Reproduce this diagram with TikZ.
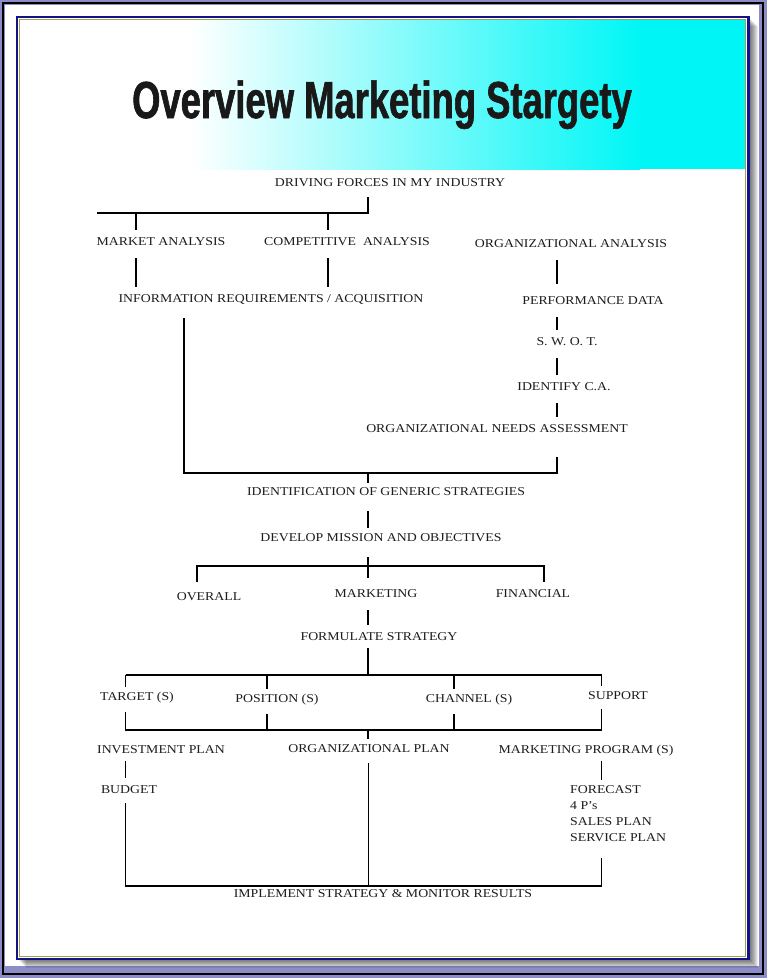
\documentclass[tikz,border=0pt]{standalone}
\usepackage{fontspec}
\setmainfont{Liberation Serif}[FakeStretch=1.15]
\newfontfamily\titlefont{Liberation Sans}[FakeStretch=0.70, FakeBold=1.2]
\usetikzlibrary{positioning}
\definecolor{panelblue}{HTML}{12128A}
\definecolor{framelav}{HTML}{8C8CC6}
\definecolor{trimolive}{HTML}{A0A048}
\definecolor{bandcyan}{HTML}{00F6F6}
\definecolor{ink}{HTML}{1C1C1C}
\tikzset{lbl/.style = {anchor = base, inner sep = 0, text height = 8pt, text depth = 0pt,
                       text = ink, font = \fontsize{12}{16}\selectfont}}
\tikzset{link/.style = {line width = 1.6pt}}
\tikzset{stub/.style = {link, shorten <= 13pt, shorten >= 7pt}}
\tikzset{ttl/.style = {anchor = base, inner sep = 0, font = \titlefont\bfseries\fontsize{52}{52}\selectfont}}

\begin{document}
\begin{tikzpicture}[x=1pt, y=-1pt]
    % frame, shadow and panel
    \fill[framelav] (0,0) rectangle (767,978);
    \fill[white] (5,5) rectangle (759,966);
    \draw[black, line width=2pt] (2.5,2.5) rectangle (763,974);
    \foreach \s in {1,...,9}
        \fill[black, opacity=0.08] ({17+\s},{17+\s}) rectangle ({749+\s},{959+\s});
    \fill[white] (17,17) rectangle (749,959);
    \shade[left color=white, right color=bandcyan] (190,20) rectangle (640,169);
    \fill[bandcyan] (640,20) rectangle (745,169);
    \draw[panelblue, line width=2.5pt] (17,17) rectangle (748.5,959);
    \draw[trimolive, line width=0.8pt] (19.8,19.8) rectangle (745,956);

    \node[ttl, text=black!90] (title) at (382,118) {Overview Marketing Stargety};

    \node[lbl] (drive) at (390,186) {DRIVING FORCES IN MY INDUSTRY};
    \node[lbl] (market) at (161,245) {MARKET ANALYSIS};
    \node[lbl] (compet) at (347,245) {COMPETITIVE\ \ ANALYSIS};
    \node[lbl] (organa) at (571,247) {ORGANIZATIONAL ANALYSIS};
    \node[lbl] (info) at (271,302) {INFORMATION REQUIREMENTS / ACQUISITION};
    \node[lbl] (perf) at (593,304) {PERFORMANCE DATA};
    \node[lbl] (swot) at (567,345) {S. W. O. T.};
    \node[lbl] (ident) at (564,390) {IDENTIFY C.A.};
    \node[lbl] (needs) at (497,432) {ORGANIZATIONAL NEEDS ASSESSMENT};
    \node[lbl] (generic) at (386,495) {IDENTIFICATION OF GENERIC STRATEGIES};
    \node[lbl] (mission) at (381,541) {DEVELOP MISSION AND OBJECTIVES};
    \node[lbl] (overall) at (209,600) {OVERALL};
    \node[lbl] (mkt) at (376,597) {MARKETING};
    \node[lbl] (fin) at (533,597) {FINANCIAL};
    \node[lbl] (formul) at (379,640) {FORMULATE STRATEGY};
    \node[lbl] (target) at (137,700) {TARGET (S)};
    \node[lbl] (posit) at (277,702) {POSITION (S)};
    \node[lbl] (channel) at (469,702) {CHANNEL (S)};
    \node[lbl] (support) at (618,699) {SUPPORT};
    \node[lbl] (invest) at (161,753) {INVESTMENT PLAN};
    \node[lbl] (orgplan) at (369,752) {ORGANIZATIONAL PLAN};
    \node[lbl] (mprog) at (586,753) {MARKETING PROGRAM (S)};
    \node[lbl] (budget) at (129,793) {BUDGET};
    \node[anchor=north west, align=left, inner sep=0, text=ink, font=\fontsize{12}{16}\selectfont]
        (plans) at (570,785) {FORECAST\\4 P's\\SALES PLAN\\SERVICE PLAN};
    \node[lbl] (implement) at (383,897) {IMPLEMENT STRATEGY \& MONITOR RESULTS};

    % columns and bars
    \coordinate (xa) at (136,0);
    \coordinate (xb) at (328,0);
    \coordinate (xc) at (557,0);
    \coordinate (xd) at (184,0);
    \coordinate (xe) at (368,0);
    \coordinate (xi) at (267,0);
    \coordinate (xj) at (454,0);
    \coordinate (b1) at (97,213);
    \coordinate (b2) at (557,473);
    \coordinate (b3l) at (197,566);
    \coordinate (b3r) at (544,566);
    \coordinate (b4l) at (125.5,675);
    \coordinate (b4r) at (601.5,675);
    \coordinate (b5l) at (125.5,730);
    \coordinate (b5r) at (601.5,730);
    \coordinate (b6l) at (125.5,886);
    \coordinate (b6r) at (601.5,886);

    \draw[link, shorten <= 11pt] (drive.south -| xe) |- (b1);
    \draw[link, shorten >= 7pt] (xa |- b1) -- (xa |- market.north);
    \draw[link, shorten >= 7pt] (xb |- b1) -- (xb |- compet.north);
    \draw[stub] (market.south -| xa) -- (info.north -| xa);
    \draw[stub] (compet.south -| xb) -- (info.north -| xb);
    \draw[stub, shorten >= 12pt] (organa.south -| xc) -- (perf.north -| xc);
    \draw[stub] (perf.south -| xc) -- (swot.north -| xc);
    \draw[stub] (swot.south -| xc) -- (ident.north -| xc);
    \draw[stub] (ident.south -| xc) -- (needs.north -| xc);
    \draw[link, shorten <= 16pt, shorten >= 25pt] (info.south -| xd) |- (b2) -- (needs.south -| xc);
    \draw[link, shorten >= 4pt] (xe |- b2) -- (xe |- generic.north);
    \draw[stub, shorten <= 16pt, shorten >= 5pt] (generic.south -| xe) -- (mission.north -| xe);
    \draw[link, shorten <= 16pt, shorten >= 11pt] (mission.south -| xe) -- (mkt.north -| xe);
    \draw[link, shorten <= 10pt, shorten >= 7pt] (overall.north -| b3l) |- (b3r) -- (fin.north -| b3r);
    \draw[stub] (mkt.south -| xe) -- (formul.north -| xe);
    \draw[link, shorten <= 8pt] (formul.south -| xe) -- (xe |- b4l);
    \draw[link] (b4l) -- (b4r);
    \draw[link, shorten >= 5pt] (b4l) -- (target.north -| b4l);
    \draw[link, shorten >= 5pt] (xi |- b4l) -- (xi |- posit.north);
    \draw[link, shorten >= 5pt] (xj |- b4l) -- (xj |- channel.north);
    \draw[link, shorten >= 5pt] (b4r) -- (support.north -| b4r);
    \draw[link, shorten <= 12pt, shorten >= 10pt] (target.south -| b5l) -- (b5l) -- (b5r) -- (support.south -| b5r);
    \draw[link, shorten <= 12pt] (posit.south -| xi) -- (xi |- b5l);
    \draw[link, shorten <= 12pt] (channel.south -| xj) -- (xj |- b5l);
    \draw[link, shorten >= 5pt] (xe |- b5l) -- (xe |- orgplan.north);
    \draw[stub, shorten <= 8pt] (invest.south -| b5l) -- (budget.north -| b5l);
    \draw[stub, shorten <= 8pt, shorten >= 5pt] (mprog.south -| b5r) -- (plans.north -| b5r);
    \draw[link, shorten <= 10pt, shorten >= 16pt] (budget.south -| b6l) |- (b6r) -- (plans.south -| b6r);
    \draw[line width=0.9pt, shorten <= 11pt] (orgplan.south -| xe) -- (xe |- b6l);
\end{tikzpicture}
\end{document}
